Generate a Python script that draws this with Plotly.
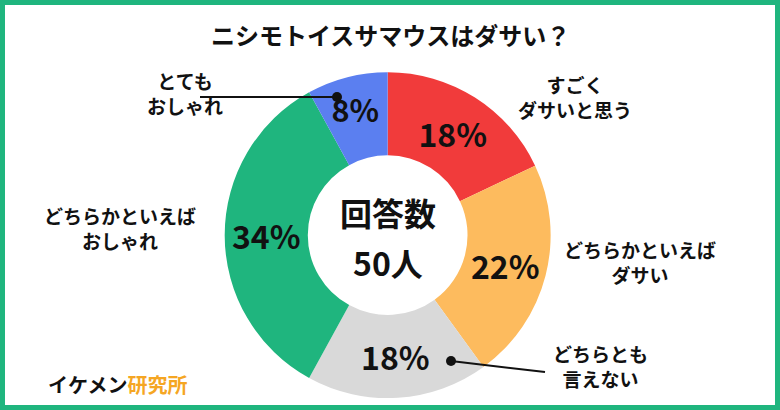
import plotly.graph_objects as go

labels = ["すごく<br>ダサいと思う", "どちらかといえば<br>ダサい", "どちらとも<br>言えない",
          "どちらかといえば<br>おしゃれ", "とても<br>おしゃれ"]
values = [18, 22, 18, 34, 8]
colors = ["#f13b3b", "#fdbb5e", "#d9d9d9", "#1fb57e", "#5b7ff0"]
green = "#1fb57e"
W, H = 780, 410

def px_x(x):
    return x / W

def px_y(y):
    return 1 - y / H

fig = go.Figure(go.Pie(
    labels=labels, values=values, sort=False, direction="clockwise", rotation=0,
    hole=0.49, marker=dict(colors=colors, line=dict(color="white", width=0)),
    texttemplate="<b>%{value}%</b>", textposition="inside", insidetextorientation="horizontal",
    textfont=dict(size=32, color="#111", family="Noto Sans CJK JP"),
    domain=dict(x=[0.288, 0.706], y=[0.029, 0.824]), showlegend=False,
    hoverinfo="label+percent",
))

font = dict(family="Noto Sans CJK JP", color="#111")
ann = [
    dict(x=390, y=35, text="<b>ニシモトイスサマウスはダサい？</b>", size=24),
    dict(x=388, y=212, text="<b>回答数</b>", size=32),
    dict(x=388, y=262, text="<b>50人</b>", size=32),
    dict(x=575, y=97, text="<b>すごく<br>ダサいと思う</b>", size=19),
    dict(x=640, y=262, text="<b>どちらかといえば<br>ダサい</b>", size=19),
    dict(x=600, y=366, text="<b>どちらとも<br>言えない</b>", size=19),
    dict(x=120, y=228, text="<b>どちらかといえば<br>おしゃれ</b>", size=19),
    dict(x=185, y=93, text="<b>とても<br>おしゃれ</b>", size=19),
    dict(x=118, y=384,
         text="<b>イケメン<span style='color:#f5a623'>研究所</span></b>", size=20),
]
annotations = [dict(xref="paper", yref="paper", x=px_x(a["x"]), y=px_y(a["y"]), text=a["text"],
                    xanchor="center", yanchor="middle",
                    showarrow=False, font=dict(size=a["size"], **font), align="center")
               for a in ann]

shapes = [
    dict(type="rect", xref="paper", yref="paper", x0=0, y0=0, x1=1, y1=1,
         line=dict(color=green, width=10)),
    dict(type="line", xref="paper", yref="paper", x0=px_x(200), y0=px_y(97),
         x1=px_x(337), y1=px_y(97), line=dict(color="#111", width=2)),
    dict(type="circle", xref="paper", yref="paper", x0=px_x(332), y0=px_y(92),
         x1=px_x(342), y1=px_y(102), fillcolor="#111", line=dict(width=0)),
    dict(type="line", xref="paper", yref="paper", x0=px_x(451), y0=px_y(361),
         x1=px_x(545), y1=px_y(372), line=dict(color="#111", width=2)),
    dict(type="circle", xref="paper", yref="paper", x0=px_x(446), y0=px_y(356),
         x1=px_x(456), y1=px_y(366), fillcolor="#111", line=dict(width=0)),
]

fig.update_layout(width=W, height=H, margin=dict(l=0, r=0, t=0, b=0),
                  paper_bgcolor="white", plot_bgcolor="white",
                  annotations=annotations, shapes=shapes)
fig.write_html("out.html", config={"displayModeBar": False},
               post_script="document.body.style.margin='0';document.body.style.overflow='hidden';")
